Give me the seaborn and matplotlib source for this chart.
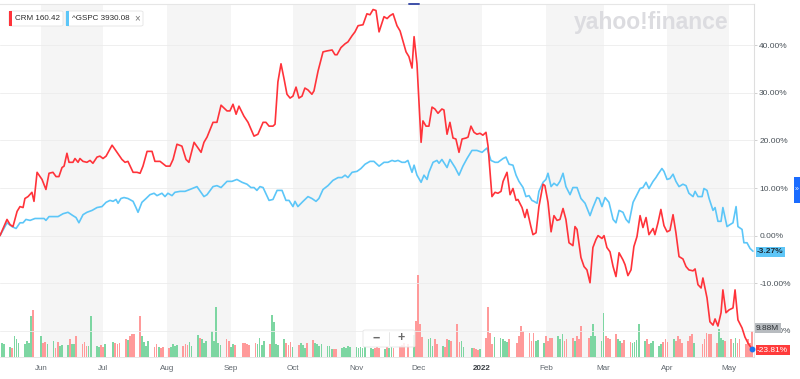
import numpy as np
import pandas as pd
import matplotlib
matplotlib.use("Agg")
import matplotlib.pyplot as plt
from matplotlib.patches import Rectangle, FancyBboxPatch
from matplotlib.lines import Line2D
import seaborn as sns

# ==========================================
# DATA (percent change since start)
# ==========================================

START = pd.Timestamp("2021-05-12")

# days since START
crm_day = [
    0.0, 3.4, 4.9, 6.3, 8.3, 9.7, 11.2, 12.1, 13.6, 15.5,
    16.5, 18.0, 20.4, 22.3, 23.8, 25.7, 27.2, 28.6, 30.1, 31.1,
    32.5, 33.5, 35.4, 36.4, 37.9, 38.8, 40.3, 42.2, 43.7, 45.1,
    47.1, 48.5, 50.0, 51.5, 54.4, 56.8, 59.2, 60.7, 62.1, 64.6,
    66.5, 68.0, 69.4, 71.4, 73.8, 75.2, 77.7, 80.6, 82.5, 84.0,
    85.9, 88.3, 90.3, 91.7, 94.2, 97.6, 99.0, 100.5, 103.4, 105.3,
    107.3, 110.2, 111.6, 113.1, 114.6, 116.0, 118.4, 120.4, 123.3, 125.2,
    127.7, 129.1, 130.6, 132.5, 133.5, 134.9, 136.4, 137.9, 139.3, 140.8,
    142.2, 143.7, 145.1, 146.6, 148.0, 149.5, 151.4, 152.4, 154.4, 156.8,
    158.7, 161.2, 162.6, 163.6, 165.5, 167.5, 168.9, 170.9, 172.3, 173.8,
    176.2, 178.1, 179.6, 181.1, 182.5, 184.0, 186.4, 187.9, 189.3, 190.8,
    192.7, 194.2, 195.6, 197.1, 198.5, 200.0, 201.0, 202.4, 204.4, 205.3,
    206.8, 208.2, 209.7, 211.1, 212.6, 214.5, 215.5, 217.0, 218.4, 219.9,
    221.3, 222.8, 224.3, 226.2, 227.2, 228.6, 230.1, 231.5, 233.0, 234.4,
    235.9, 236.9, 238.8, 240.3, 241.7, 243.2, 244.2, 246.1, 247.6, 249.0,
    250.5, 251.4, 253.4, 254.8, 255.8, 257.7, 258.7, 260.2, 261.6, 263.6,
    264.5, 266.0, 267.5, 268.9, 270.4, 271.8, 273.3, 274.7, 276.2, 278.1,
    279.1, 280.1, 282.0, 283.5, 284.9, 286.4, 287.8, 289.3, 290.3, 292.2,
    293.2, 294.6, 296.1, 297.6, 299.0, 300.5, 302.4, 303.4, 304.8, 306.3,
    307.7, 309.2, 310.7, 312.1, 313.6, 315.0, 317.0, 317.9, 319.4, 320.8,
    322.3, 323.8, 325.2, 326.7, 328.1, 329.6, 331.5, 333.0, 334.4, 336.4,
    337.4, 338.8, 340.3, 341.2, 343.2, 344.6, 346.1, 347.1, 348.5, 350.0,
    350.9, 352.4, 353.9, 355.8, 356.8, 358.2, 360.2, 361.6, 363.1, 365.0,
]
crm_pct = [
    0.0, 3.4, 2.3, 1.9, 5.1, 6.1, 5.9, 7.8, 8.2, 9.1,
    7.2, 13.3, 11.8, 9.7, 13.1, 13.3, 12.4, 12.4, 14.3, 14.6,
    17.3, 15.4, 15.4, 16.2, 15.4, 16.2, 15.6, 15.4, 15.8, 15.2,
    16.5, 16.7, 16.2, 16.7, 19.0, 17.5, 16.0, 15.4, 15.6, 13.3,
    13.3, 13.1, 14.6, 17.7, 17.7, 15.6, 15.6, 14.6, 14.6, 16.0,
    19.2, 18.8, 16.0, 15.4, 19.6, 17.5, 19.6, 20.7, 23.8, 23.8,
    27.4, 26.2, 26.2, 27.6, 25.5, 27.2, 25.1, 23.8, 20.9, 21.3,
    23.8, 23.8, 23.0, 23.0, 23.4, 32.3, 36.1, 32.9, 29.7, 28.9,
    29.3, 31.2, 28.9, 29.3, 31.0, 30.6, 29.7, 30.4, 34.6, 38.6,
    38.8, 39.0, 38.0, 38.0, 39.5, 40.3, 40.7, 42.0, 42.8, 44.1,
    44.3, 46.6, 46.4, 47.5, 47.3, 42.8, 46.0, 45.6, 46.2, 46.6,
    44.1, 43.0, 40.9, 38.6, 37.6, 35.2, 41.8, 36.1, 19.6, 24.1,
    23.0, 23.0, 27.0, 26.6, 25.7, 26.6, 26.4, 21.3, 23.8, 20.5,
    20.3, 17.5, 20.3, 20.5, 20.7, 23.0, 21.7, 21.3, 21.5, 21.1,
    21.7, 18.8, 8.2, 9.1, 8.9, 9.3, 11.4, 13.3, 8.6, 9.9,
    7.4, 7.6, 5.9, 3.8, 5.5, 1.9, 0.2, 0.6, 6.1, 10.8,
    10.5, 7.0, 0.8, 4.2, 3.2, 3.4, 5.7, 3.4, -1.5, -2.1,
    1.9, 1.3, -4.6, -6.5, -7.2, -9.9, -2.5, -0.8, 0.0, -0.6,
    0.0, -2.5, -3.4, -6.5, -8.6, -3.6, -5.1, -6.1, -8.4, -7.2,
    -2.3, -0.2, 4.2, 1.7, 3.8, 0.2, 1.5, 0.2, 2.7, 5.5,
    2.1, 0.8, 1.1, 4.4, 0.6, -4.4, -4.9, -6.5, -7.2, -7.4,
    -7.0, -10.3, -11.0, -8.9, -13.1, -18.1, -18.8, -17.5, -19.0, -16.2,
    -11.4, -16.2, -15.6, -15.2, -11.4, -17.7, -19.4, -21.3, -22.6, -23.81,
]

spx_day = [
    0.0, 3.4, 5.8, 7.8, 9.7, 11.2, 12.6, 14.6, 17.0, 19.4,
    21.4, 22.3, 23.8, 26.2, 28.2, 30.6, 33.0, 35.4, 36.9, 38.3,
    40.3, 42.2, 44.7, 47.1, 49.5, 51.5, 53.4, 54.9, 56.3, 57.3,
    58.7, 60.2, 62.1, 64.6, 66.0, 67.0, 68.9, 70.9, 72.8, 74.8,
    76.2, 78.6, 80.1, 81.5, 83.5, 84.9, 87.4, 89.8, 92.2, 95.6,
    99.0, 100.5, 103.4, 105.3, 107.3, 110.2, 112.6, 115.0, 117.5, 119.9,
    121.8, 123.3, 124.7, 126.2, 127.7, 130.6, 132.5, 134.5, 136.9, 138.8,
    140.3, 142.2, 143.2, 144.6, 147.1, 149.5, 151.4, 153.4, 154.8, 156.8,
    159.2, 161.6, 164.1, 166.0, 167.5, 168.9, 170.9, 173.3, 175.2, 177.2,
    179.6, 181.5, 184.0, 186.4, 188.3, 190.3, 191.7, 193.2, 195.1, 196.6,
    198.0, 200.0, 201.0, 202.4, 204.4, 205.8, 207.3, 208.2, 210.2, 212.1,
    213.1, 214.5, 217.0, 218.4, 220.9, 222.8, 224.7, 226.7, 229.1, 231.5,
    234.0, 236.4, 238.3, 240.3, 241.7, 244.2, 245.6, 247.1, 249.0, 250.5,
    251.9, 253.9, 255.3, 256.8, 258.2, 259.2, 260.7, 261.6, 263.6, 265.0,
    266.0, 267.5, 268.9, 270.4, 271.8, 273.3, 274.7, 276.7, 278.1, 280.1,
    282.0, 284.0, 286.4, 287.8, 289.8, 290.8, 292.2, 293.7, 295.6, 297.6,
    299.0, 300.5, 302.4, 303.9, 305.3, 307.3, 309.2, 310.7, 312.1, 313.6,
    315.0, 317.0, 318.4, 319.4, 321.3, 322.3, 323.8, 325.2, 326.7, 328.1,
    329.6, 331.5, 333.0, 334.4, 336.4, 337.4, 338.8, 340.8, 341.7, 343.2,
    344.2, 346.1, 347.1, 348.5, 350.0, 350.9, 352.9, 354.3, 355.8, 357.3,
    358.2, 360.2, 361.1, 362.6, 364.1, 365.5,
]
spx_pct = [
    0.0, 2.7, 1.9, 1.5, 2.7, 2.7, 3.4, 3.2, 3.6, 3.6,
    3.6, 3.2, 4.0, 4.0, 4.0, 4.6, 4.9, 4.2, 3.8, 2.7,
    4.4, 4.9, 5.3, 5.9, 6.1, 7.0, 7.4, 7.2, 7.6, 6.8,
    7.8, 8.0, 7.8, 7.2, 5.9, 4.9, 7.0, 7.8, 8.6, 8.9,
    8.4, 8.9, 8.2, 8.9, 8.4, 9.1, 9.3, 9.3, 9.7, 10.3,
    8.2, 8.6, 10.3, 10.5, 10.1, 11.4, 11.4, 11.8, 11.2, 10.8,
    10.1, 10.1, 9.5, 10.3, 10.1, 7.4, 7.6, 9.5, 9.5, 7.4,
    7.4, 6.1, 7.2, 6.1, 7.2, 8.2, 7.8, 7.2, 7.8, 9.7,
    10.5, 11.6, 12.2, 12.2, 12.7, 12.2, 13.3, 13.5, 14.1, 15.0,
    15.6, 15.6, 14.6, 15.4, 15.4, 15.8, 15.6, 15.8, 15.4, 15.4,
    15.8, 13.3, 14.8, 12.7, 11.2, 12.7, 11.8, 13.3, 15.4, 15.8,
    15.2, 16.0, 14.3, 16.0, 14.3, 12.7, 14.6, 16.2, 17.9, 17.9,
    17.5, 18.4, 15.8, 15.4, 15.4, 16.2, 16.5, 15.0, 14.8, 12.7,
    11.4, 10.1, 8.2, 8.4, 7.4, 7.2, 6.8, 9.3, 11.2, 11.8,
    13.1, 10.3, 11.0, 10.5, 11.4, 13.1, 10.3, 8.6, 10.1, 10.1,
    7.8, 6.8, 4.2, 5.9, 8.0, 7.8, 6.1, 8.0, 7.0, 3.4,
    2.7, 5.3, 4.9, 3.4, 2.7, 7.0, 8.6, 9.9, 10.1, 11.2,
    9.9, 11.4, 12.2, 12.9, 14.1, 13.5, 11.8, 12.0, 12.9, 11.4,
    10.3, 10.8, 10.5, 8.9, 8.2, 9.3, 8.2, 8.2, 9.9, 9.5,
    7.8, 5.3, 5.9, 3.0, 3.0, 5.9, 1.9, 2.3, 2.7, 6.1,
    1.9, 1.3, -1.5, -1.5, -2.7, -3.27,
]

# NYSE closures inside the window
holidays = ["2021-05-31", "2021-07-05", "2021-09-06", "2021-11-25",
            "2021-12-24", "2022-01-17", "2022-02-21", "2022-04-15"]

# CRM daily volume, millions (one value per trading day, by month)
vol_m = (
    [5.4, 5.0, 3.8, 3.5, 8.1, 6.9, 5.4, 5.0, 6.2, 5.4, 15.8, 18.1]  # May
    + [8.1, 5.4, 5.8, 5.0, 6.2, 3.5, 5.8, 4.2, 4.6, 4.6, 6.9, 5.0, 5.0, 8.1,
       5.0, 5.8, 4.2, 4.2, 15.8, 4.2, 3.8, 4.6]  # Jun
    + [3.8, 5.0, 5.8, 5.4, 5.0, 5.4, 6.9, 6.5, 8.1, 8.8, 8.8, 15.8, 8.1, 5.8,
       4.2, 6.2, 3.8, 5.0, 3.8, 3.5, 3.8]  # Jul
    + [3.5, 3.8, 5.0, 4.2, 4.6, 4.2, 5.0, 4.6, 5.8, 4.2, 8.5, 7.3, 6.9, 5.4,
       6.2, 10.0, 6.2, 19.2, 5.4, 4.6, 6.9, 6.2]  # Aug
    + [3.8, 5.0, 4.6, 5.4, 5.4, 5.0, 4.6, 5.4, 5.0, 7.3, 4.6, 6.2, 5.0, 16.2,
       13.5, 5.0, 4.6, 6.9, 5.4, 4.6, 5.8]  # Sep
    + [3.8, 4.6, 5.4, 4.6, 3.5, 5.4, 6.5, 5.4, 5.0, 4.2, 5.0, 4.2, 4.2, 3.1,
       3.1, 3.1, 3.5, 3.8, 3.5, 4.2, 3.8]  # Oct
    + [3.8, 3.5, 3.8, 3.5, 3.8, 3.5, 3.1, 3.5, 3.8, 3.5, 3.1, 3.8, 3.5, 3.8,
       3.5, 4.2, 4.6, 5.4, 5.0, 8.5, 13.8]  # Nov
    + [31.5, 12.7, 7.7, 6.9, 7.3, 4.2, 6.9, 5.0, 4.2, 3.8, 6.9, 6.5, 6.2, 12.7,
       5.8, 6.2, 3.8, 3.5, 3.5, 3.1, 2.7, 3.1]  # Dec
    + [7.3, 19.2, 9.2, 5.0, 7.7, 7.3, 6.9, 6.2, 5.8, 6.9, 5.4, 8.1, 11.9, 10.0,
       9.2, 6.2, 9.2, 6.2, 6.5, 5.4]  # Jan
    + [8.1, 6.2, 7.3, 7.3, 8.1, 6.9, 8.8, 6.2, 6.9, 7.3, 6.2, 8.1, 6.9, 11.9,
       7.3, 8.1, 12.7, 8.1, 6.2]  # Feb
    + [16.9, 8.1, 7.3, 6.9, 8.8, 6.9, 6.2, 5.4, 6.5, 5.8, 5.4, 5.8, 6.5, 12.7,
       6.2, 6.9, 5.0, 5.4, 6.2, 4.2, 5.0, 5.8, 6.9]  # Mar
    + [5.8, 6.9, 6.2, 8.1, 6.9, 5.4, 6.2, 8.1, 8.8, 5.4, 5.0, 6.9, 9.2, 8.8,
       8.8, 5.4, 10.8, 7.3, 6.5, 6.2]  # Apr
    + [6.9, 5.4, 7.3, 5.4, 6.9, 5.0, 6.9, 5.4, 9.88]  # May
)

shade_start = ["2021-06-01", "2021-08-01", "2021-10-01", "2021-12-01", "2022-02-01", "2022-04-01"]
shade_end = ["2021-07-01", "2021-09-01", "2021-11-01", "2022-01-01", "2022-03-01", "2022-05-01"]

tick_dates = ["2021-06-01", "2021-07-01", "2021-08-01", "2021-09-01", "2021-10-01", "2021-11-01",
              "2021-12-01", "2022-01-01", "2022-02-01", "2022-03-01", "2022-04-01", "2022-05-01"]
tick_labels = ["Jun", "Jul", "Aug", "Sep", "Oct", "Nov", "Dec", "2022", "Feb", "Mar", "Apr", "May"]

y_ticks = [-20, -10, 0, 10, 20, 30, 40]

# ==========================================
# STYLE
# ==========================================

CRM_COLOR = "#ff333a"
SPX_COLOR = "#5cc6f8"
BAND_COLOR = "#f5f5f5"
VOL_UP = "#7dd6a2"
VOL_DOWN = "#ff9a9a"
W, H = 800, 379

sns.set_theme(style="white")
plt.rcParams['font.family'] = ['Liberation Sans', 'DejaVu Sans']


def fx(x):
    return x / W


def fy(y):
    return 1 - y / H


fig = plt.figure(figsize=(8.0, 3.79), dpi=100)
fig.patch.set_facecolor("white")

# bottom axes: month bands + volume; top twin: percent lines
ax_vol = fig.add_axes([0.0, fy(357), fx(754), (357 - 4) / H])
ax = ax_vol.twinx()

x0 = START
x1 = START + pd.Timedelta(days=366)
ax_vol.set_xlim(x0, x1)

for s, e in zip(shade_start, shade_end):
    ax_vol.axvspan(pd.Timestamp(s), pd.Timestamp(e), color=BAND_COLOR, lw=0, zorder=0)

# volume bars, coloured by CRM day-over-day move
trade_days = pd.bdate_range("2021-05-13", "2022-05-12", freq="C", holidays=holidays)
assert len(trade_days) == len(vol_m)
offs = (trade_days - START).days.values.astype(float)
crm_daily = np.interp(offs, crm_day, crm_pct)
up = np.diff(crm_daily, prepend=crm_daily[0] - 1) >= 0
bar_colors = [VOL_UP if u else VOL_DOWN for u in up]
ax_vol.bar(trade_days, vol_m, width=0.85, color=bar_colors, lw=0, antialiased=False, zorder=2)
ax_vol.set_ylim(0, (357 - 4) / 2.6)
ax_vol.set_yticks([])

ax_vol.set_xticks([pd.Timestamp(d) for d in tick_dates])
ax_vol.set_xticklabels(tick_labels)
ax_vol.tick_params(axis="x", direction="out", length=3, width=0.6, color="#d6d6d6",
                   labelsize=5.8, labelcolor="#5f666d", pad=2.5)
lbl_2022 = ax_vol.get_xticklabels()[7]
lbl_2022.set_fontweight("bold")
lbl_2022.set_color("#3a3f44")

for side in ["left", "right"]:
    ax_vol.spines[side].set_visible(False)
ax_vol.spines["bottom"].set_color("#e3e3e3")
ax_vol.spines["bottom"].set_linewidth(0.6)
ax_vol.spines["top"].set_color("#e6e6e6")
ax_vol.spines["top"].set_linewidth(0.8)

# percent lines
crm_dates = START + pd.to_timedelta(crm_day, unit="D")
spx_dates = START + pd.to_timedelta(spx_day, unit="D")
sns.lineplot(x=spx_dates, y=spx_pct, ax=ax, color=SPX_COLOR, linewidth=1.2, estimator=None, zorder=3)
sns.lineplot(x=crm_dates, y=crm_pct, ax=ax, color=CRM_COLOR, linewidth=1.2, estimator=None, zorder=4)
ax.plot([crm_dates[-1]], [crm_pct[-1]], "o", ms=3.2, color="#1b74f0", clip_on=False, zorder=6)

ax.set_ylim(-25.5, 48.66)
ax.set_xlim(x0, x1)
ax.set_yticks(y_ticks)
ax.set_yticklabels([f"{v:.2f}%" for v in y_ticks])
ax.tick_params(axis="y", direction="out", length=2.2, width=0.6, color="#c9c9c9",
               labelsize=6, labelcolor="#4a5259", pad=1.5)
ax.yaxis.grid(True, color="#ececec", linewidth=0.6)
ax.set_axisbelow(True)
ax.set_xlabel("")
ax.set_ylabel("")
for side in ["left", "top", "bottom"]:
    ax.spines[side].set_visible(False)
ax.spines["right"].set_color("#dedede")
ax.spines["right"].set_linewidth(0.8)

# ==========================================
# OVERLAYS (legend chips, tags, watermark)
# ==========================================

fig.text(fx(574), fy(22), "yahoo!finance", fontsize=16.5, fontweight="bold",
         color="#dcdce0", ha="left", va="center", zorder=1)


def chip(x_left, x_right, color, label, close=False):
    box = FancyBboxPatch((fx(x_left), fy(26)), fx(x_right - x_left), (26 - 11) / H,
                         boxstyle="round,pad=0,rounding_size=0.003", transform=fig.transFigure,
                         facecolor="white", edgecolor="#e4e4e4", linewidth=0.6, zorder=5)
    fig.patches.append(box)
    fig.patches.append(Rectangle((fx(x_left), fy(26)), fx(3), (26 - 11) / H,
                                 transform=fig.transFigure, facecolor=color, lw=0, zorder=6))
    fig.text(fx(x_left + 6), fy(18.5), label, fontsize=5.8, color="#2b2b2b",
             ha="left", va="center", zorder=7)
    if close:
        fig.text(fx(x_right - 9), fy(18.5), "\u00d7", fontsize=7, color="#777777",
                 ha="left", va="center", zorder=7)


chip(9, 63, CRM_COLOR, "CRM 160.42")
chip(66, 143, SPX_COLOR, "^GSPC 3930.08", close=True)

tag_style = dict(boxstyle="square,pad=0.18", edgecolor="none")
fig.text(fx(757), fy(251.5), "-3.27%", fontsize=6, fontweight="bold", color="#1d2a33",
         ha="left", va="center", bbox=dict(facecolor="#5ec6f7", **tag_style), zorder=8)
fig.text(fx(756), fy(328), "9.88M", fontsize=6, color="#2e3236",
         ha="left", va="center", bbox=dict(facecolor="#b8bcc0", **tag_style), zorder=8)
fig.text(fx(757), fy(350), "-23.81%", fontsize=6, color="white",
         ha="left", va="center", bbox=dict(facecolor="#ff3b3b", **tag_style), zorder=8)

# side tab
fig.patches.append(Rectangle((fx(794), fy(203)), fx(6), 26 / H, transform=fig.transFigure,
                             facecolor="#1a6cff", lw=0, zorder=8))
fig.text(fx(795), fy(190), "\u00bb", fontsize=5, color="white", ha="left", va="center", zorder=9)

# zoom buttons
zb = FancyBboxPatch((fx(363), fy(347)), fx(52), 17 / H,
                    boxstyle="round,pad=0,rounding_size=0.003", transform=fig.transFigure,
                    facecolor=(1, 1, 1, 0.85), edgecolor="#e6e6e6", linewidth=0.6, zorder=8)
fig.patches.append(zb)
fig.lines.append(Line2D([fx(389), fx(389)], [fy(345), fy(332)], transform=fig.transFigure,
                        color="#e2e2e2", lw=0.6, zorder=9))
fig.text(fx(376), fy(338.5), "\u2212", fontsize=9, fontweight="bold", color="#6b6b6b",
         ha="center", va="center", zorder=9)
fig.text(fx(401), fy(338.5), "+", fontsize=9, fontweight="bold", color="#6b6b6b",
         ha="center", va="center", zorder=9)

# event marker at the top edge
fig.lines.append(Line2D([fx(409), fx(419)], [fy(3.5), fy(3.5)], transform=fig.transFigure,
                        color="#3d4fa8", lw=1.4, zorder=9))

fig.savefig("out.png", dpi=100, facecolor="white")
plt.close(fig)
